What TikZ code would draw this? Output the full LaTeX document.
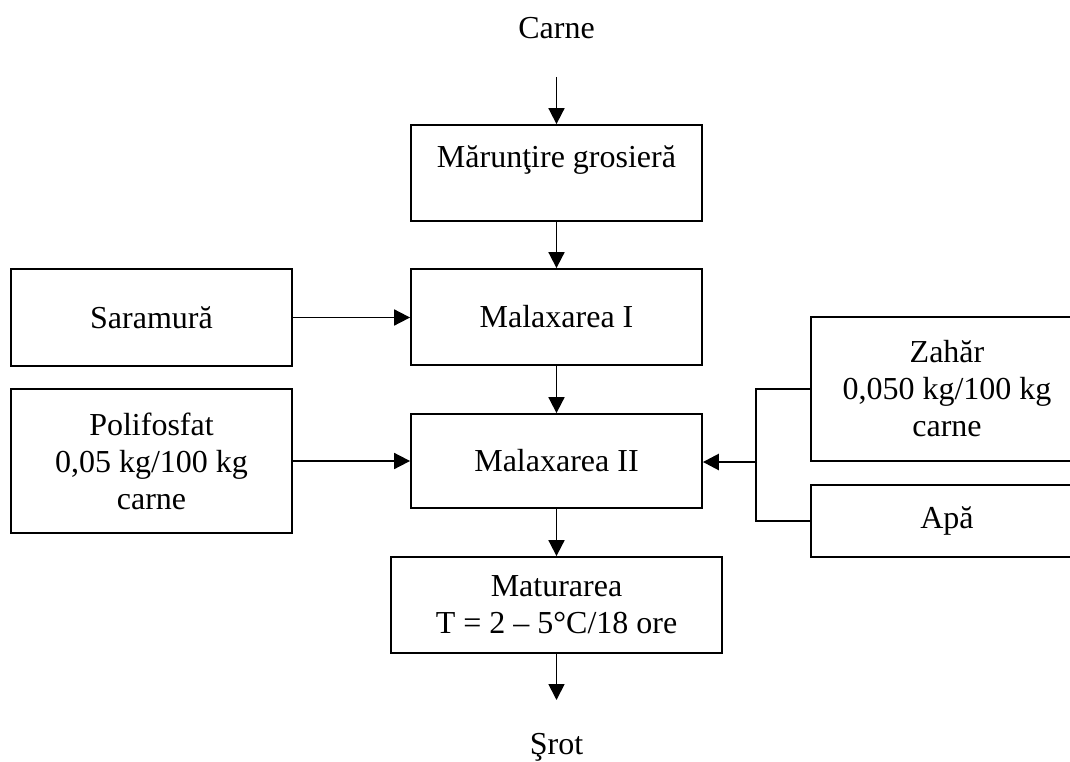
\documentclass[tikz,border=0pt]{standalone}
\usepackage{fontspec}
\setmainfont{Liberation Serif}
\usetikzlibrary{arrows.meta}
\begin{document}
\begin{tikzpicture}[x=1pt,y=-1pt,
  txt/.style={inner sep=0pt, align=center, font=\fontsize{32}{37}\selectfont},
  box/.style={txt, draw, line width=1.8pt},
  ln/.style={line width=1.8pt},
  arr/.style={line width=1.8pt, -{Triangle[length=16pt,width=16pt]}}]
\clip (0,0) rectangle (1070,762);
\fill[white] (0,0) rectangle (1070,762);
% nodes
\node[txt] (carne) at (556.5,28) {Carne};
\node[box, minimum width=291pt, minimum height=96pt] (m1) at (556.5,173) {};
\node[txt] (m1t) at (556.5,160) {Mărunţire grosieră};
\node[box, minimum width=291pt, minimum height=96pt] (mal1) at (556.5,317) {Malaxarea I};
\node[box, minimum width=281pt, minimum height=97pt] (sar) at (151.5,317.5) {Saramură};
\node[box, minimum width=291pt, minimum height=94pt] (mal2) at (556.5,461) {Malaxarea II};
\node[box, minimum width=281pt, minimum height=144pt] (poli) at (151.5,461) {Polifosfat\\0,05 kg/100 kg\\carne};
\node[box, minimum width=272pt, minimum height=144pt] (zah) at (947,389) {Zahăr\\0,050 kg/100 kg\\carne};
\node[box, minimum width=272pt, minimum height=72pt] (apa) at (947,521) {Apă};
\node[box, minimum width=331pt, minimum height=96pt] (mat) at (556.5,605) {Maturarea\\T = 2 – 5°C/18 ore};
\node[txt] (srot) at (556.5,747) {Şrot};
% connectors
\coordinate (cin) at (556.5,77);
\coordinate (sout) at (556.5,700);
\coordinate (br) at (757,462);
\draw[arr] (cin) -- (m1);
\draw[arr] (m1) -- (mal1);
\draw[arr] (mal1) -- (mal2);
\draw[arr] (mal2) -- (mat);
\draw[arr] (mat) -- (sout);
\draw[arr] (sar.east) -- (sar.east -| mal1.west);
\draw[arr] (poli.east) -- (poli.east -| mal2.west);
\draw[ln] (zah.west) -- ++(-54,0) |- (apa.west);
\draw[arr, line width=2.6pt] (br) -- (br -| mal2.east);
\end{tikzpicture}
\end{document}
